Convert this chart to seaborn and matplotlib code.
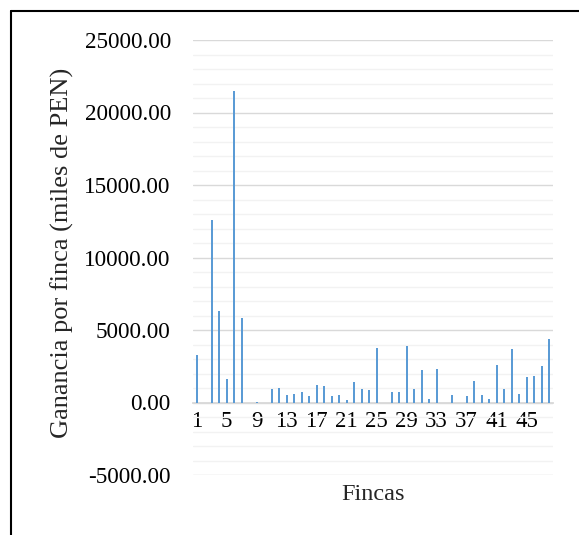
import matplotlib
matplotlib.use("Agg")
import matplotlib.pyplot as plt
from matplotlib.ticker import MultipleLocator, FixedLocator
from matplotlib.lines import Line2D
import seaborn as sns
import pandas as pd

fincas = [str(i) for i in range(1, 49)]
ganancia = [3300, 0, 12600, 6320, 1630, 21470, 5820, 0, 40, 0,
            940, 1010, 510, 575, 710, 440, 1220, 1150, 460, 530,
            180, 1425, 965, 830, 3770, 0, 690, 735, 3930, 940,
            2250, 250, 2300, 0, 550, 0, 480, 1450, 550, 250,
            2600, 940, 3680, 600, 1770, 1840, 2530, 4370]
xtick_labels = [str(i) for i in range(1, 49, 4)]
y_ticks = [-5000, 0, 5000, 10000, 15000, 20000, 25000]

sns.set_style("white")
plt.rcParams['font.family'] = ['Liberation Serif', 'DejaVu Serif']

df = pd.DataFrame({"Finca": fincas, "Ganancia": ganancia})

W, H = 579, 535
fig = plt.figure(figsize=(W / 100, H / 100), dpi=100)
ax = fig.add_axes([193 / W, 60 / H, 360 / W, 435 / H])

sns.barplot(data=df, x="Finca", y="Ganancia", order=fincas, color="#5B9BD5",
            width=0.3, saturation=1, linewidth=0, edgecolor="#5B9BD5",
            ax=ax, zorder=3)

ax.set_ylim(-5000, 25000)
ax.set_xlim(-0.5, len(fincas) - 0.5)
ax.yaxis.set_major_locator(FixedLocator(y_ticks))
ax.set_yticklabels([f"{v:.2f}" for v in y_ticks])
ax.yaxis.set_minor_locator(MultipleLocator(1000))
ax.grid(which="major", axis="y", color="#d9d9d9", lw=1.0, zorder=0)
ax.grid(which="minor", axis="y", color="#f2f2f2", lw=1.0, zorder=0)
ax.set_axisbelow(True)

ax.set_xticks(list(range(0, len(fincas), 4)))
ax.set_xticklabels(xtick_labels)

for s in ["top", "right", "left"]:
    ax.spines[s].set_visible(False)
ax.spines["bottom"].set_position(("data", 0))
ax.spines["bottom"].set_color("#d9d9d9")
ax.spines["bottom"].set_linewidth(1.3)
ax.spines["bottom"].set_zorder(2)

ax.tick_params(axis="y", which="both", length=0, pad=16, labelsize=16.7, colors="black")
ax.tick_params(axis="x", which="both", length=0, pad=6, labelsize=16.5, colors="black")

ax.set_xlabel("")
ax.set_ylabel("")
fig.text(373 / W, 1 - 495 / H, "Fincas", ha="center", va="center", fontsize=17.5)
fig.text(62 / W, 1 - 253 / H, "Ganancia por finca (miles de PEN)", ha="center",
         va="center", rotation=90, fontsize=19)

# chart border (top and left visible)
yb = 1 - 10.5 / H
xb = 11 / W
fig.add_artist(Line2D([xb, xb], [0, yb], transform=fig.transFigure, color="black", lw=1.5))
fig.add_artist(Line2D([xb, 1], [yb, yb], transform=fig.transFigure, color="black", lw=1.5))

fig.savefig("out.png", dpi=100)
